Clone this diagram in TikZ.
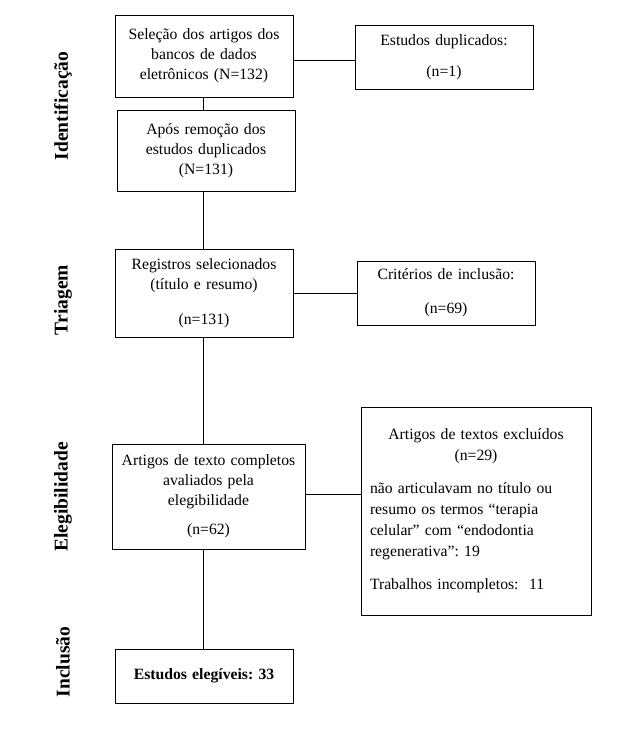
\documentclass[tikz,border=0pt]{standalone}
\usepackage{fontspec}
\setmainfont{Liberation Serif}
\setlength{\parindent}{0pt}
\setlength{\parskip}{0pt}
\frenchspacing
\begin{document}
\begin{tikzpicture}[x=1pt,y=-1pt,
  box/.style={draw, line width=1pt, inner xsep=4pt, inner ysep=0pt, align=center,
    font=\fontsize{15.7}{20}\selectfont},
  phase/.style={rotate=90, font=\fontsize{19.5}{24}\selectfont\bfseries},
  link/.style={line width=1pt}]
\useasboundingbox[fill=white] (0,0) rectangle (629,742);
\coordinate (axis) at (203,0);
% phase labels
\node[phase] (lid) at (63,106) {Identificação};
\node[phase] (ltr) at (63,300) {Triagem};
\node[phase] (lel) at (63,497) {Elegibilidade};
\node[phase] (lin) at (63,662) {Inclusão};
% main column
\node[box, text width=170pt, minimum width=178pt, minimum height=82pt] (b1) at (204,56)
  {Seleção dos artigos dos\\bancos de dados\\eletrônicos (N=132)\par\vspace*{6pt}};
\node[box, text width=170pt, minimum width=178pt, minimum height=81pt] (b2) at (206,150.5)
  {Após remoção dos\\estudos duplicados\\(N=131)\par\vspace*{8pt}};
\node[box, text width=170pt, minimum width=178pt, minimum height=88pt] (b3) at (204,293)
  {Registros selecionados\\(título e resumo)\\[15pt](n=131)};
\node[box, text width=185pt, minimum width=193pt, minimum height=105pt] (b4) at (208.5,496.5)
  {Artigos de texto completos\\avaliados pela\\elegibilidade\\[9pt](n=62)};
\node[box, text width=170pt, minimum width=178pt, minimum height=54pt] (b5) at (204,676)
  {\bfseries Estudos elegíveis: 33\par\vspace*{14pt}};
% side boxes
\node[box, text width=170pt, minimum width=178pt, minimum height=64pt] (dup) at (444,57)
  {Estudos duplicados:\\[11pt](n=1)};
\node[box, text width=170pt, minimum width=178pt, minimum height=64pt] (crit) at (446,293)
  {\vspace*{7pt}Critérios de inclusão:\\[7pt](n=69)};
\node[box, text width=212pt, minimum width=230pt, minimum height=208pt, inner xsep=9pt, align=left,
  font=\fontsize{15.7}{21}\selectfont] (excl) at (476,511)
  {{\centering Artigos de textos excluídos\\(n=29)\par}\vspace{12pt}não articulavam no título ou\\resumo os termos “terapia\\celular” com “endodontia\\regenerativa”: 19\par\vspace{12pt}Trabalhos incompletos:~ 11\par\vspace*{12pt}};
% connectors
\draw[link] (b1.south -| axis) -- (b2.north -| axis);
\draw[link] (b2.south -| axis) -- (b3.north -| axis);
\draw[link] (b3.south -| axis) -- (b4.north -| axis);
\draw[link] (b4.south -| axis) -- (b5.north -| axis);
\draw[link] ([yshift=-4pt]b1.east) -- ([yshift=-4pt]b1.east -| dup.west);
\draw[link] (b3.east) -- (crit.west);
\draw[link] ([yshift=2.5pt]b4.east) -- ([yshift=2.5pt]b4.east -| excl.west);
\end{tikzpicture}
\end{document}
